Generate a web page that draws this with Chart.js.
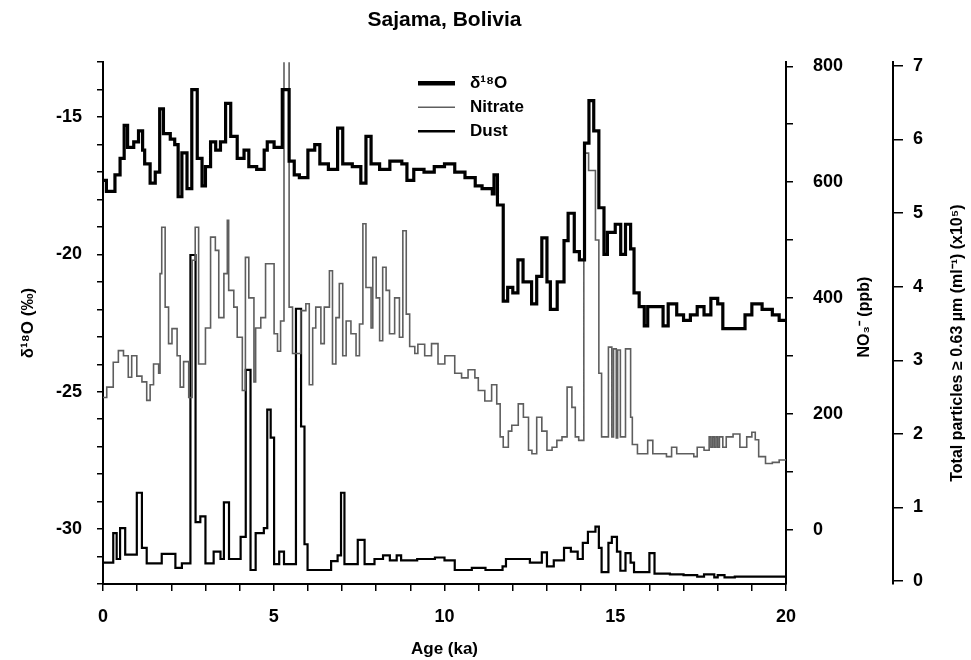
<!DOCTYPE html>
<html>
<head>
<meta charset="utf-8">
<script src="https://cdn.jsdelivr.net/npm/chart.js@4.4.1/dist/chart.umd.min.js"></script>
<style>
html,body{margin:0;padding:0;background:#fff;}
#wrap{width:971px;height:660px;position:relative;}
</style>
</head>
<body>
<div id="wrap"><canvas id="c" width="971" height="660"></canvas></div>
<script>
// ---------- text ----------
const chartTitle = 'Sajama, Bolivia';
const seriesLabels = ['δ¹⁸O', 'Nitrate', 'Dust'];
const xAxisTitle = 'Age (ka)';
const d18oAxisTitle = 'δ¹⁸O (‰)';
const nitrateAxisTitle = 'NO₃⁻ (ppb)';
const dustAxisTitle = 'Total particles ≥ 0.63 µm (ml⁻¹) (x10⁵)';
const xTickLabels = [0, 5, 10, 15, 20];
const d18oTickLabels = [-30, -25, -20, -15];
const nitrateTickLabels = [0, 200, 400, 600, 800];
const dustTickLabels = [0, 1, 2, 3, 4, 5, 6, 7];

// ---------- data (age in ka, value starting at that age) ----------
const d18oAge = [0,0.1,0.35,0.5,0.62,0.72,0.9,1.04,1.16,1.22,1.38,1.53,1.66,1.77,1.97,2.1,2.2,2.31,2.46,2.6,2.76,2.9,3.0,3.15,3.3,3.44,3.59,3.74,3.93,4.13,4.27,4.5,4.72,4.81,5.01,5.25,5.45,5.6,5.75,6.0,6.2,6.35,6.6,6.87,7.02,7.3,7.55,7.7,7.85,8.1,8.4,8.75,8.9,9.1,9.4,9.7,10.0,10.3,10.6,10.9,11.1,11.4,11.45,11.55,11.72,11.85,12.0,12.15,12.3,12.55,12.7,12.85,13.0,13.1,13.3,13.5,13.62,13.8,13.95,14.1,14.23,14.37,14.52,14.67,14.77,15.0,15.16,15.3,15.45,15.55,15.7,15.85,15.95,16.4,16.55,16.8,17.0,17.2,17.4,17.6,17.8,18.0,18.15,18.8,19.0,19.3,19.6,19.8,20];
const d18oVal = [-17.3,-17.7,-17.1,-16.5,-15.3,-16.1,-15.9,-15.5,-16.2,-16.7,-17.4,-17.0,-14.7,-15.6,-15.8,-16.0,-17.9,-16.3,-17.6,-14.0,-16.5,-17.5,-16.8,-15.9,-16.2,-15.9,-14.5,-15.7,-16.5,-16.2,-16.8,-16.9,-16.2,-15.9,-16.1,-14.0,-16.6,-17.1,-17.2,-16.2,-16.0,-16.7,-16.9,-15.4,-16.7,-16.8,-17.4,-15.7,-16.7,-16.9,-16.6,-16.7,-17.3,-16.9,-17.0,-16.8,-16.7,-17.0,-17.2,-17.5,-17.6,-17.8,-17.1,-18.2,-21.7,-21.2,-21.4,-20.2,-21.0,-21.8,-20.8,-19.4,-21.0,-22.0,-21.0,-19.5,-18.5,-19.9,-20.2,-15.95,-14.4,-15.5,-18.3,-20.0,-19.2,-18.9,-20.0,-18.9,-19.8,-21.4,-21.9,-22.6,-21.9,-22.6,-21.8,-22.2,-22.4,-22.2,-21.9,-22.2,-21.6,-21.8,-22.7,-22.2,-21.8,-22.0,-22.2,-22.4,-22.4];

const nitrateAge = [0,0.11,0.3,0.45,0.6,0.74,0.84,0.99,1.14,1.28,1.38,1.48,1.63,1.67,1.72,1.82,1.92,2.02,2.17,2.26,2.36,2.51,2.61,2.7,2.8,3.0,3.15,3.29,3.39,3.54,3.64,3.68,3.83,3.93,4.08,4.17,4.27,4.42,4.47,4.62,4.76,5.01,5.11,5.2,5.3,5.45,5.55,5.79,5.94,6.04,6.14,6.23,6.38,6.48,6.63,6.72,6.82,6.92,7.02,7.12,7.26,7.41,7.51,7.61,7.7,7.85,7.9,8.0,8.1,8.19,8.29,8.39,8.54,8.68,8.78,8.88,8.98,9.13,9.22,9.42,9.62,9.81,10.01,10.3,10.5,10.69,10.89,10.99,11.18,11.38,11.53,11.63,11.72,11.87,11.97,12.16,12.31,12.46,12.56,12.7,12.85,13.0,13.15,13.29,13.44,13.59,13.73,13.83,13.93,14.08,14.22,14.42,14.52,14.6,14.8,14.9,14.95,15.03,15.07,15.15,15.3,15.45,15.5,15.65,15.95,16.1,16.5,16.65,16.8,17.3,17.4,17.6,17.75,17.8,17.85,17.9,17.95,18.0,18.05,18.15,18.25,18.45,18.65,18.85,19.0,19.1,19.2,19.4,19.6,19.8,20];
const nitrateVal = [228,246,289,309,300,263,300,265,255,223,250,286,270,442,522,384,321,347,300,246,290,228,465,522,286,348,505,482,366,442,534,413,384,332,240,470,400,255,348,366,459,338,308,360,900,384,304,378,390,250,348,384,321,384,447,286,366,425,300,360,338,300,355,528,418,348,470,400,326,453,413,338,400,332,516,372,316,304,320,300,321,286,300,270,262,276,262,240,222,250,217,160,142,170,180,217,194,137,131,194,170,137,142,154,160,246,211,160,154,650,620,500,270,160,315,160,312,158,310,160,312,194,147,131,154,131,126,142,131,126,142,137,160,142,160,142,160,142,160,142,160,165,142,160,168,155,126,114,116,120,122];

const dustAge = [0,0.3,0.4,0.5,0.65,0.99,1.14,1.28,1.72,2.12,2.31,2.56,2.71,2.85,3.0,3.24,3.44,3.54,3.69,4.03,4.18,4.32,4.47,4.71,4.81,4.91,5.01,5.16,5.3,5.65,5.8,5.9,5.99,6.68,6.87,6.97,7.07,7.46,7.66,7.95,8.2,8.4,8.6,8.73,9.2,9.72,10.0,10.3,10.8,11.2,11.7,11.8,12.5,12.85,13.0,13.2,13.5,13.7,13.9,14.05,14.2,14.42,14.52,14.6,14.8,14.9,15.05,15.15,15.3,15.45,15.55,16.0,16.15,16.6,17.0,17.4,17.6,17.9,18.0,18.2,18.5,20];
const dustVal = [0.25,0.65,0.3,0.72,0.36,1.2,0.45,0.24,0.37,0.18,0.24,4.43,0.8,0.88,0.24,0.4,0.3,1.07,0.3,0.6,2.87,0.15,0.65,0.72,2.33,1.95,0.23,0.4,0.23,3.7,2.1,0.5,0.15,0.27,0.35,1.2,0.23,0.56,0.23,0.3,0.35,0.28,0.35,0.28,0.3,0.32,0.28,0.15,0.18,0.15,0.2,0.3,0.25,0.39,0.2,0.28,0.45,0.4,0.3,0.52,0.67,0.74,0.45,0.12,0.52,0.6,0.4,0.14,0.38,0.25,0.12,0.38,0.1,0.09,0.08,0.06,0.09,0.05,0.08,0.05,0.06,0.04];

// ---------- chart ----------
const FONT = '"Liberation Sans", Arial, Helvetica, sans-serif';
Chart.defaults.font.family = FONT;
Chart.defaults.color = '#000';

const toXY = (ages, vals) => ages.map((a, i) => ({x: a, y: vals[i]}));
const tickFont = {size: 18, weight: 'bold'};
const gridOpts = (len) => ({display: true, drawOnChartArea: false, drawTicks: true,
  tickLength: len, color: '#000', lineWidth: 1.5});
const borderOpts = {display: true, color: '#000', width: 2};
const only = (list) => (v) => list.includes(Math.round(v * 1000) / 1000) ? String(v) : '';
// tick marks every `step` between `from` and `to`
const setTicks = (from, to, step) => (scale) => {
  const t = [];
  for (let v = from; v <= to + 1e-9; v += step) t.push({value: Math.round(v * 1000) / 1000});
  scale.ticks = t;
};

const insideLegend = {
  id: 'insideLegend',
  afterDraw(chart) {
    const ctx = chart.ctx, ca = chart.chartArea;
    const x0 = ca.left + 315, x1 = ca.left + 352, tx = ca.left + 367;
    chart.data.datasets.forEach((ds, i) => {
      const y = ca.top + 21 + i * 24;
      ctx.save();
      ctx.strokeStyle = ds.borderColor;
      ctx.lineWidth = ds.legendWidth;
      ctx.beginPath(); ctx.moveTo(x0, y); ctx.lineTo(x1, y); ctx.stroke();
      ctx.fillStyle = '#000';
      ctx.font = 'bold 17px ' + FONT;
      ctx.textBaseline = 'middle';
      ctx.textAlign = 'left';
      ctx.fillText(ds.label, tx, y);
      ctx.restore();
    });
  }
};

const rightTitles = {
  id: 'rightTitles',
  afterDraw(chart) {
    const ctx = chart.ctx, ca = chart.chartArea;
    const a = chart.scales.yNO3, b = chart.scales.yDust;
    const mid = (ca.top + ca.bottom) / 2;
    ctx.save();
    ctx.fillStyle = '#000';
    ctx.font = 'bold 16px ' + FONT;
    ctx.textAlign = 'center';
    ctx.textBaseline = 'middle';
    [[nitrateAxisTitle, a.right - 28, mid - 6], [dustAxisTitle, b.right - 13, mid + 20]].forEach(([t, x, y]) => {
      ctx.save(); ctx.translate(x, y); ctx.rotate(-Math.PI / 2); ctx.fillText(t, 0, 0); ctx.restore();
    });
    ctx.restore();
  }
};

new Chart(document.getElementById('c'), {
  type: 'line',
  data: {
    datasets: [
      {label: seriesLabels[0], data: toXY(d18oAge, d18oVal), yAxisID: 'yD18O',
       borderColor: '#000', borderWidth: 3.2, legendWidth: 4.5, stepped: true, pointRadius: 0, fill: false},
      {label: seriesLabels[1], data: toXY(nitrateAge, nitrateVal), yAxisID: 'yNO3',
       borderColor: '#5e5e5e', borderWidth: 1.6, legendWidth: 1.6, stepped: true, pointRadius: 0, fill: false},
      {label: seriesLabels[2], data: toXY(dustAge, dustVal), yAxisID: 'yDust',
       borderColor: '#000', borderWidth: 2.2, legendWidth: 2.5, stepped: true, pointRadius: 0, fill: false}
    ]
  },
  options: {
    responsive: false,
    animation: false,
    layout: {padding: 0},
    plugins: {
      legend: {display: false},
      tooltip: {enabled: false},
      title: {display: true, text: chartTitle, fullSize: false,
              font: {size: 21, weight: 'bold'}, color: '#000', padding: {top: 8, bottom: 29}}
    },
    scales: {
      x: {
        type: 'linear', position: 'bottom', min: 0, max: 20,
        grid: gridOpts(7), border: borderOpts,
        afterBuildTicks: setTicks(0, 20, 1),
        ticks: {autoSkip: false, maxRotation: 0, font: tickFont, padding: 15, callback: only(xTickLabels)},
        title: {display: true, text: xAxisTitle, font: {size: 17, weight: 'bold'}, padding: {top: 0, bottom: 0}},
        afterFit: (s) => { s.height = 76; }
      },
      yD18O: {
        type: 'linear', position: 'left', min: -32, max: -13,
        grid: gridOpts(6), border: borderOpts,
        afterBuildTicks: setTicks(-32, -13, 1),
        ticks: {autoSkip: false, font: tickFont, padding: 15, callback: only(d18oTickLabels)},
        title: {display: true, text: d18oAxisTitle, font: {size: 17, weight: 'bold'}, padding: {top: 18, bottom: 0}},
        afterFit: (s) => { s.width = 103; }
      },
      yNO3: {
        type: 'linear', position: 'right', weight: 0, min: -94, max: 807,
        grid: gridOpts(7), border: borderOpts,
        afterBuildTicks: setTicks(0, 800, 100),
        ticks: {autoSkip: false, font: tickFont, padding: 20, callback: only(nitrateTickLabels)},
        afterFit: (s) => { s.width = 107; }
      },
      yDust: {
        type: 'linear', position: 'right', weight: 1, min: -0.04, max: 7.05,
        grid: gridOpts(10), border: borderOpts,
        afterBuildTicks: setTicks(0, 7, 1),
        ticks: {autoSkip: false, font: tickFont, padding: 10, callback: only(dustTickLabels)},
        afterFit: (s) => { s.width = 78; }
      }
    }
  },
  plugins: [insideLegend, rightTitles]
});
</script>
</body>
</html>
